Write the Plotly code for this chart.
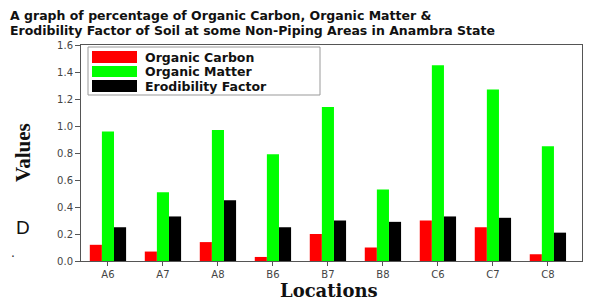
import plotly.graph_objects as go

locations = ["A6", "A7", "A8", "B6", "B7", "B8", "C6", "C7", "C8"]
organic_carbon = [0.12, 0.07, 0.14, 0.03, 0.20, 0.10, 0.30, 0.25, 0.05]
organic_matter = [0.96, 0.51, 0.97, 0.79, 1.14, 0.53, 1.45, 1.27, 0.85]
erodibility = [0.25, 0.33, 0.45, 0.25, 0.30, 0.29, 0.33, 0.32, 0.21]
series_names = ["Organic Carbon", "Organic Matter", "Erodibility Factor"]
series_colors = ["#ff0000", "#00ff00", "#000000"]
y_ticks = [0.0, 0.2, 0.4, 0.6, 0.8, 1.0, 1.2, 1.4, 1.6]
title_lines = ["A graph of percentage of Organic Carbon, Organic Matter &amp;",
               "Erodibility Factor of Soil at some Non-Piping Areas in Anambra State"]

# page body adds an 8px offset; the figure is sized so the plot lands where the reference has it
OFF = 8
W, H = 591 - OFF, 300 - OFF
L, R, T, B = 81, 582, 45, 261  # plot area in screen (reference) pixels


def px(x):
    return (x - L) / (R - L)


def py(y):
    return (B - y) / (B - T)


fig = go.Figure()
for name, vals, col in zip(series_names, [organic_carbon, organic_matter, erodibility], series_colors):
    fig.add_trace(go.Bar(x=locations, y=vals, name=name, marker=dict(color=col, line=dict(width=0)),
                         showlegend=False))

# legend drawn manually (wide swatches like the original)
shapes = [dict(type="rect", xref="paper", yref="paper", x0=px(88), x1=px(320), y0=py(95), y1=py(47),
               line=dict(color="#999999", width=1), fillcolor="rgba(255,255,255,0)")]
annotations = []
rows = [(51, 63), (66, 77), (80, 92)]
for (y0, y1), name, col in zip(rows, series_names, series_colors):
    shapes.append(dict(type="rect", xref="paper", yref="paper", x0=px(92), x1=px(137), y0=py(y1), y1=py(y0),
                       line=dict(width=0), fillcolor=col))
    annotations.append(dict(text=f"<b>{name}</b>", xref="paper", yref="paper", x=px(143),
                            y=py((y0 + y1) / 2), xanchor="left", yanchor="middle", showarrow=False,
                            font=dict(family="DejaVu Sans", size=12.5, color="#111111")))

annotations.append(dict(text="D", xref="paper", yref="paper", x=px(23), y=py(227), xanchor="center",
                        yanchor="middle", showarrow=False,
                        font=dict(family="Liberation Sans", size=19, color="#111111")))
annotations.append(dict(text=".", xref="paper", yref="paper", x=px(13), y=py(252), xanchor="center",
                        yanchor="middle", showarrow=False,
                        font=dict(family="Liberation Sans", size=14, color="#333333")))
for line, yc in zip(title_lines, [16, 31]):
    annotations.append(dict(text=f"<b>{line}</b>", xref="paper", yref="paper", x=px(8), y=py(yc),
                            xanchor="left", yanchor="middle", showarrow=False,
                            font=dict(family="DejaVu Sans", size=12.5, color="#111111")))
annotations.append(dict(text="<b>Values</b>", xref="paper", yref="paper", x=px(23), y=py(153),
                        xanchor="center", yanchor="middle", textangle=-90, showarrow=False,
                        font=dict(family="Liberation Serif", size=21, color="#111111")))
annotations.append(dict(text="<b>Locations</b>", xref="paper", yref="paper", x=px(329), y=py(290),
                        xanchor="center", yanchor="middle", showarrow=False,
                        font=dict(family="DejaVu Serif", size=18, color="#111111")))

fig.update_layout(
    width=W, height=H,
    margin=dict(l=L - OFF, r=W - (R - OFF), t=T - OFF, b=H - (B - OFF), pad=0),
    paper_bgcolor="white", plot_bgcolor="white",
    barmode="group", bargap=0.34, bargroupgap=0.0,
    shapes=shapes, annotations=annotations,
    xaxis=dict(range=[-0.49, 8.62], showline=True, linecolor="#555555", linewidth=1, mirror=True,
               ticks="outside", ticklen=4, tickcolor="#555555", showgrid=False,
               tickfont=dict(family="DejaVu Sans", size=10, color="#444444")),
    yaxis=dict(range=[0, 1.6], showline=True, linecolor="#555555", linewidth=1, mirror=True,
               ticks="outside", ticklen=5, tickcolor="#555555", showgrid=False, zeroline=False,
               tickvals=y_ticks, ticktext=[f"{v:.1f}" for v in y_ticks],
               tickfont=dict(family="DejaVu Sans", size=10, color="#444444")),
)

fig.write_html("out.html")
